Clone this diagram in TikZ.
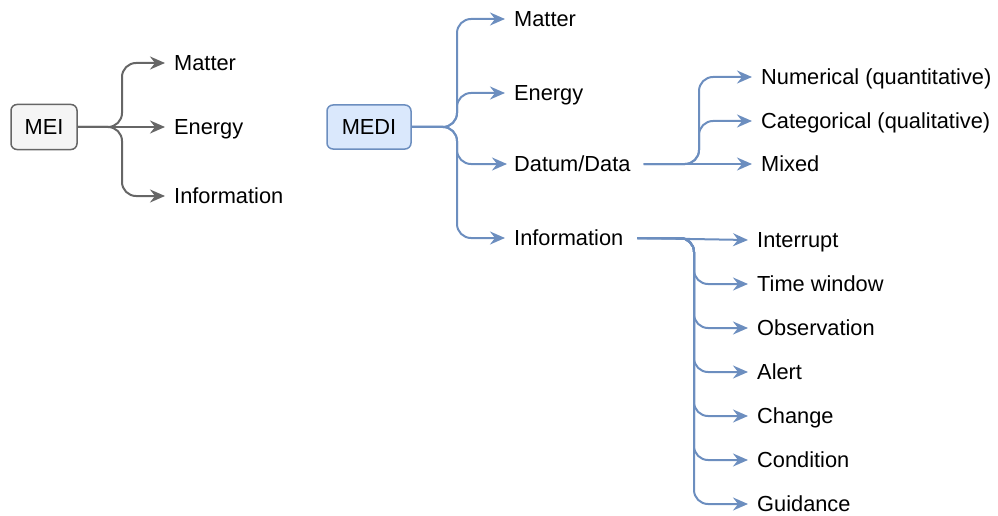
\documentclass[tikz,border=0pt]{standalone}
\usepackage{fontspec}
\setmainfont{Liberation Sans}
\usetikzlibrary{arrows.meta}
\definecolor{greyline}{HTML}{666666}
\definecolor{greyfill}{HTML}{F5F5F5}
\definecolor{blueline}{HTML}{6C8EBF}
\definecolor{bluefill}{HTML}{DAE8FC}
\begin{document}
\begin{tikzpicture}[x=1pt,y=-1pt,
  every node/.style={font=\fontsize{21.8}{26}\selectfont},
  rootbox/.style={draw, rounded corners=6pt, line width=1.5pt, minimum height=45pt, inner sep=0pt},
  leaf/.style={anchor=west, inner xsep=9pt, inner ysep=0pt, text height=15.6pt, text depth=0pt},
  branch/.style={line width=2pt, rounded corners=14pt, -{Stealth[length=15pt,width=13pt,inset=5pt]}},
  greybranch/.style={branch, draw=greyline},
  bluebranch/.style={branch, draw=blueline},
]
\useasboundingbox (0,0) rectangle (998,516);

% ---- MEI tree ----
\node[rootbox, draw=greyline, fill=greyfill, minimum width=66pt] (mei) at (44,127) {MEI};
\node[leaf] (meiM) at (165,63) {Matter};
\node[leaf] (meiE) at (165,127) {Energy};
\node[leaf] (meiI) at (165,196) {Information};
\coordinate (tA) at (122,0);
\draw[greybranch] (mei.east) -| (tA |- meiM.west) -- (meiM.west);
\draw[greybranch] (mei.east) -- (meiE.west);
\draw[greybranch] (mei.east) -| (tA |- meiI.west) -- (meiI.west);

% ---- MEDI tree ----
\node[rootbox, draw=blueline, fill=bluefill, minimum width=84pt, minimum height=44pt] (medi) at (369,127) {MEDI};
\node[leaf] (mM) at (505,19) {Matter};
\node[leaf] (mE) at (505,93) {Energy};
\node[leaf, inner xsep=7pt] (mD) at (507,164) {Datum/Data};
\node[leaf] (mI) at (505,238) {Information};
\coordinate (tB) at (457,0);
\draw[bluebranch] (medi.east) -| (tB |- mM.west) -- (mM.west);
\draw[bluebranch] (medi.east) -| (tB |- mE.west) -- (mE.west);
\draw[bluebranch] (medi.east) -| (tB |- mD.west) -- (mD.west);
\draw[bluebranch] (medi.east) -| (tB |- mI.west) -- (mI.west);

% ---- Datum/Data children ----
\node[leaf] (dN) at (752,77) {Numerical (quantitative)};
\node[leaf] (dC) at (752,121) {Categorical (qualitative)};
\node[leaf] (dX) at (752,164) {Mixed};
\coordinate (tC) at (699,0);
\draw[bluebranch, shorten <=6pt] (mD.east) -| (tC |- dN.west) -- (dN.west);
\draw[bluebranch, shorten <=6pt] (mD.east) -| (tC |- dC.west) -- (dC.west);
\draw[bluebranch, shorten <=6pt] (mD.east) -- (dX.west);

% ---- Information children ----
\node[leaf] (iA) at (748,240) {Interrupt};
\node[leaf] (iB) at (748,284) {Time window};
\node[leaf] (iC) at (748,328) {Observation};
\node[leaf] (iD) at (748,372) {Alert};
\node[leaf] (iE) at (748,416) {Change};
\node[leaf] (iF) at (748,460) {Condition};
\node[leaf] (iG) at (748,504) {Guidance};
\coordinate (tD) at (694,0);
\draw[bluebranch, shorten <=5pt] (mI.east) -- (iA.west);
\foreach \n in {iB,iC,iD,iE,iF,iG}
  \draw[bluebranch, shorten <=5pt] (mI.east) -| (tD |- \n.west) -- (\n.west);
\end{tikzpicture}
\end{document}
